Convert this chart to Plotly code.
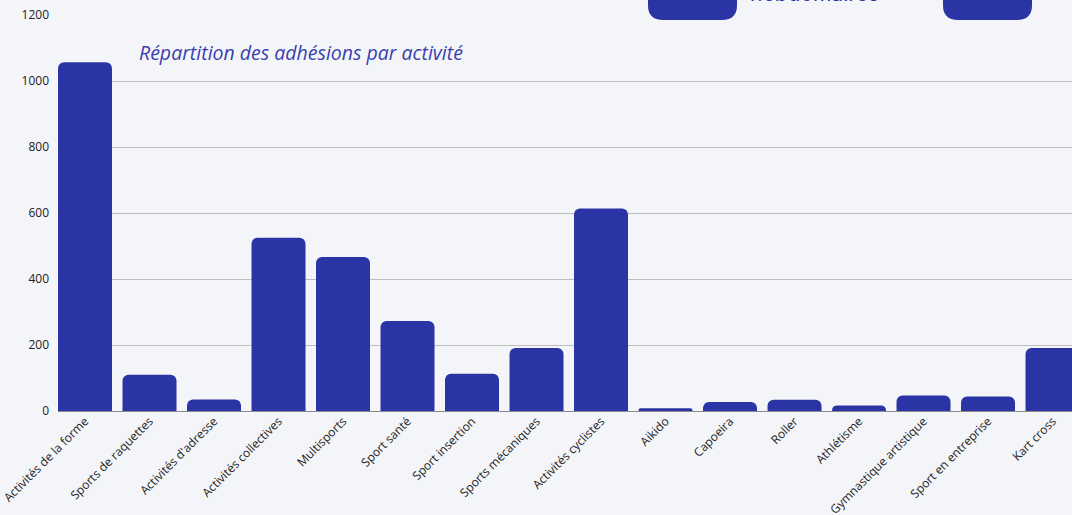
import plotly.graph_objects as go

categories = ["Activités de la forme", "Sports de raquettes", "Activités d'adresse",
              "Activités collectives", "Multisports", "Sport santé", "Sport insertion",
              "Sports mécaniques", "Activités cyclistes", "Aikido", "Capoeira", "Roller",
              "Athlétisme", "Gymnastique artistique", "Sport en entreprise", "Kart cross"]
adhesions = [1057, 110, 35, 525, 467, 273, 113, 191, 614, 8, 27, 34, 17, 47, 44, 191]
y_ticks = [0, 200, 400, 600, 800, 1000, 1200]

title_text = "Répartition des adhésions par activité"
top_text = "hebdomaires"

BLUE = "#2B34A5"
BG = "#F4F5F8"

W, H = 1072, 515
ML, MR, MT, MB = 58, 0, 15, 104
PW, PH = W - ML - MR, H - MT - MB

def px_x(px):
    return (px - ML) / PW

def px_y(py):
    return (H - MB - py) / PH

fig = go.Figure()
fig.add_trace(go.Bar(
    x=categories, y=adhesions,
    marker=dict(color=BLUE, cornerradius=6, line=dict(width=0)),
    hoverinfo="x+y",
))

shapes = []
for left, right in [(648, 737), (943, 1032)]:
    w = right - left
    r = 15
    path = (f"M 0,60 L 0,{r} Q 0,0 {r},0 L {w - r},0 Q {w},0 {w},{r} L {w},60 Z")
    shapes.append(dict(
        type="path", xref="paper", yref="paper",
        xsizemode="pixel", ysizemode="pixel",
        xanchor=px_x(left), yanchor=px_y(20),
        path=path, fillcolor=BLUE, line=dict(width=0), layer="above",
    ))

fig.update_layout(
    width=W, height=H,
    margin=dict(l=ML, r=MR, t=MT, b=MB, autoexpand=False),
    paper_bgcolor=BG, plot_bgcolor=BG,
    bargap=0.163,
    showlegend=False,
    font=dict(family="Open Sans, Noto Sans, sans-serif", color="#222222", size=12),
    shapes=shapes,
    annotations=[
        dict(text=title_text, xref="paper", yref="paper",
             x=px_x(137), y=px_y(52), xanchor="left", yanchor="middle",
             showarrow=False,
             font=dict(family="Open Sans, sans-serif", size=19.5, color="#3A3FAE",
                       style="italic")),
        dict(text=top_text, xref="paper", yref="paper",
             x=px_x(748), y=px_y(8), xanchor="left", yanchor="bottom",
             showarrow=False,
             font=dict(family="Inter, Open Sans, sans-serif", size=21, color=BLUE)),
    ],
    xaxis=dict(
        type="category",
        range=[-0.4186, 15.302],
        tickangle=-45,
        tickfont=dict(size=12, color="#222222"),
        showgrid=False, showline=False, ticks="",
        automargin=False,
        fixedrange=True,
    ),
    yaxis=dict(
        range=[0, 1200],
        tickvals=y_ticks,
        tickfont=dict(size=12, color="#222222"),
        showgrid=True, gridcolor="#BDBDBD", gridwidth=1,
        zeroline=True, zerolinecolor="#8A8A8A", zerolinewidth=1,
        showline=False, ticks="", ticklabelstandoff=8,
        automargin=False,
        fixedrange=True,
    ),
)

fig.write_html(
    "out.html",
    config={"displayModeBar": False},
    post_script="document.body.style.margin='0';document.body.style.background='#F4F5F8';document.body.style.overflow='hidden';",
)
